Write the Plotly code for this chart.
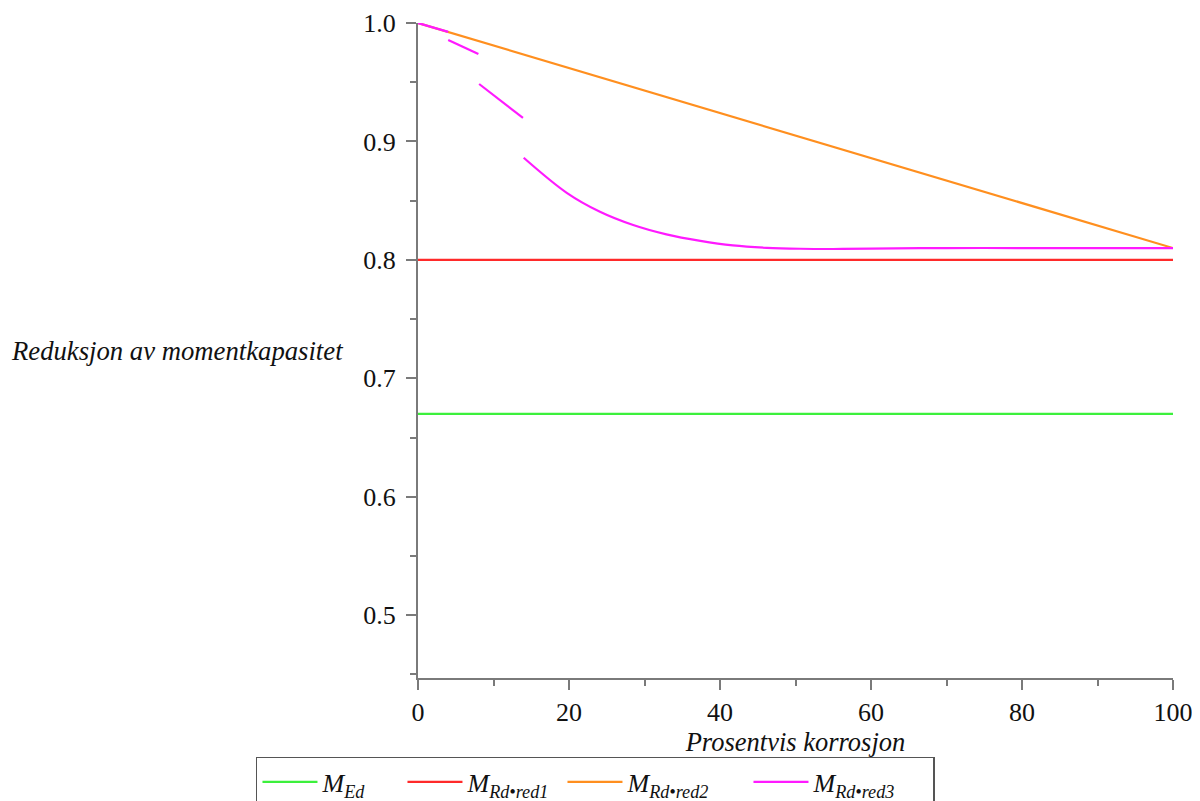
import plotly.graph_objects as go

# ---- data ----
x_span = [0, 100]
m_ed = [0.67, 0.67]
m_rd_red1 = [0.8, 0.8]
m_rd_red2 = [1.0, 0.81]

red3_x = [0, 4, None, 4, 8, None, 8.1, 13.9, None,
          14.0, 19.7, 24.1, 28.5, 32.9, 37.4, 41.7, 46.2, 50.6, 55, 60, 70, 80, 90, 100]
red3_y = [1.0, 0.9925, None, 0.9856, 0.9738, None, 0.9485, 0.9198, None,
          0.8862, 0.8566, 0.8406, 0.8294, 0.8215, 0.816, 0.8122, 0.8102, 0.8094, 0.8092, 0.8095, 0.81, 0.81, 0.81, 0.81]

names = ["<i>M<sub>Ed</sub></i>", "<i>M<sub>Rd•red1</sub></i>",
         "<i>M<sub>Rd•red2</sub></i>", "<i>M<sub>Rd•red3</sub></i>"]
colors = ["#3cf03c", "#ff2a2a", "#ff8f1f", "#ff1aff"]
legend_widths = [75, 90, 116, 115]

x_ticks = [0, 20, 40, 60, 80, 100]
y_ticks = [0.5, 0.6, 0.7, 0.8, 0.9, 1.0]

FONT = "Liberation Serif"
AX = "#7a7a7a"

fig = go.Figure()
series = [(x_span, m_ed), (x_span, m_rd_red1), (x_span, m_rd_red2)]
for i, (xs, ys) in enumerate(series):
    fig.add_trace(go.Scatter(x=xs, y=ys, mode="lines", name=names[i],
                             legendwidth=legend_widths[i],
                             line=dict(color=colors[i], width=2.2)))
fig.add_trace(go.Scatter(x=red3_x, y=red3_y, mode="lines", name=names[3],
                         legendwidth=legend_widths[3], connectgaps=False,
                         line=dict(color=colors[3], width=2.2, shape="spline", smoothing=1.0)))

fig.update_layout(
    width=1192, height=793,
    paper_bgcolor="white", plot_bgcolor="white",
    margin=dict(l=410, r=27, t=15, b=123, autoexpand=False),
    font=dict(family=FONT, size=26, color="#111111"),
    showlegend=True,
    legend=dict(orientation="h", x=-0.2146, xanchor="left", y=-0.1206, yanchor="top",
                bordercolor="#555555", borderwidth=1.5, bgcolor="white",
                font=dict(family=FONT, size=26, color="#111111"),
                itemwidth=55, traceorder="normal"),
    xaxis=dict(range=[0, 100], tickvals=x_ticks, ticks="outside", ticklen=10,
               tickwidth=2, tickcolor=AX, showline=True, linecolor=AX, linewidth=2,
               showgrid=False, zeroline=False, ticklabelstandoff=0,
               minor=dict(dtick=10, ticklen=6, tickwidth=2, tickcolor=AX, ticks="outside"),
               title=dict(text="<i>Prosentvis korrosjon</i>", standoff=0,
                          font=dict(family=FONT, size=26.5)),
               tickfont=dict(family=FONT, size=26)),
    yaxis=dict(range=[0.447, 1.0], tickvals=y_ticks, tickformat=".1f", ticks="outside",
               ticklen=10, tickwidth=2, tickcolor=AX, showline=True, linecolor=AX,
               linewidth=2, showgrid=False, zeroline=False, ticklabelstandoff=5,
               minor=dict(dtick=0.05, ticklen=6, tickwidth=2, tickcolor=AX, ticks="outside"),
               tickfont=dict(family=FONT, size=26)),
    annotations=[dict(text="<i>Reduksjon av momentkapasitet</i>", xref="paper", yref="paper",
                      x=-0.5417, y=0.5, xanchor="left", yanchor="middle", showarrow=False,
                      font=dict(family=FONT, size=26.7, color="#111111"))],
)

fig.write_html("out.html")
